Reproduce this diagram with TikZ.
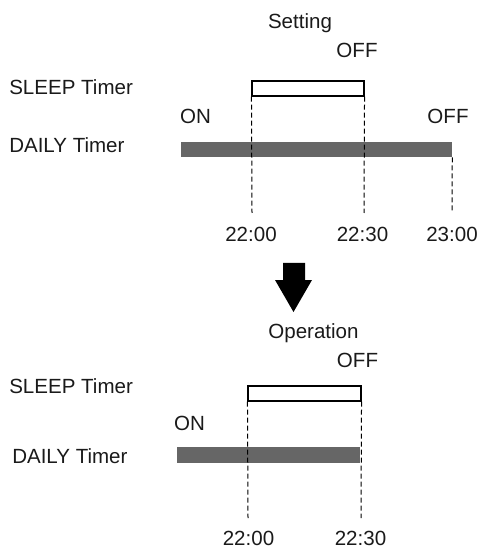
\documentclass[tikz,border=0pt]{standalone}
\usepackage{fontspec}
\setmainfont{Liberation Sans}
\usetikzlibrary{fit}
\definecolor{bargray}{HTML}{666666}
\definecolor{txt}{HTML}{1A1A1A}
\begin{document}
\begin{tikzpicture}[x=0.75pt,y=-0.75pt,
  lbl/.style={inner sep=0,anchor=base,text=txt,font=\fontsize{15.4}{18}\selectfont},
  lbll/.style={lbl,anchor=base west},
  sleepbox/.style={draw=black,fill=white,line width=0.8pt,inner sep=0},
  dailybar/.style={fill=bargray,draw=none,inner sep=0},
  guide/.style={draw=black,line width=0.75pt,dash pattern=on 3.75pt off 2.25pt},
  bigarrow/.style={fill=black,draw=none}]
\useasboundingbox (0,0) rectangle (481,548);
% ---------- Setting ----------
\node[lbl] (set) at (300,29) {Setting};
\node[lbl] (off1) at (357,58) {OFF};
\node[lbll] (sl1) at (9,95) {SLEEP Timer};
\node[lbl] (on1) at (195.5,124) {ON};
\node[lbl] (off2) at (448,124) {OFF};
\node[lbll] (dl1) at (9,153) {DAILY Timer};
\node[dailybar, fit={(181,142)(452,157)}] (bar1) {};
\node[sleepbox, fit={(252,81)(364,96)}] (box1) {};
\coordinate (g1) at (252,213);
\coordinate (g2) at (364,213);
\coordinate (g3) at (452,213);
\draw[guide] (box1.south west) -- (g1);
\draw[guide] (box1.south east) -- (g2);
\draw[guide] (bar1.south east) -- (g3);
\node[lbl] (t1) at (251,242) {22:00};
\node[lbl] (t2) at (362.5,242) {22:30};
\node[lbl] (t3) at (452,242) {23:00};
% ---------- arrow ----------
\path[bigarrow] (283,263) -- (305,263) -- (305,280) -- (312,280) -- (293.5,312)
  -- (275,280) -- (283,280) -- cycle;
% ---------- Operation ----------
\node[lbl] (op) at (313.5,338) {Operation};
\node[lbl] (off3) at (357.5,367) {OFF};
\node[lbll] (sl2) at (9,393) {SLEEP Timer};
\node[lbl] (on2) at (189.5,430) {ON};
\node[lbll] (dl2) at (12,463) {DAILY Timer};
\node[dailybar, fit={(177,447)(360,463)}] (bar2) {};
\node[sleepbox, fit={(248,386)(361,401)}] (box2) {};
\coordinate (g4) at (248,518);
\coordinate (g5) at (361,518);
\draw[guide] (box2.south west) -- (g4);
\draw[guide] (box2.south east) -- (g5);
\node[lbl] (t4) at (248.5,545.5) {22:00};
\node[lbl] (t5) at (360.5,545.5) {22:30};
\end{tikzpicture}
\end{document}
